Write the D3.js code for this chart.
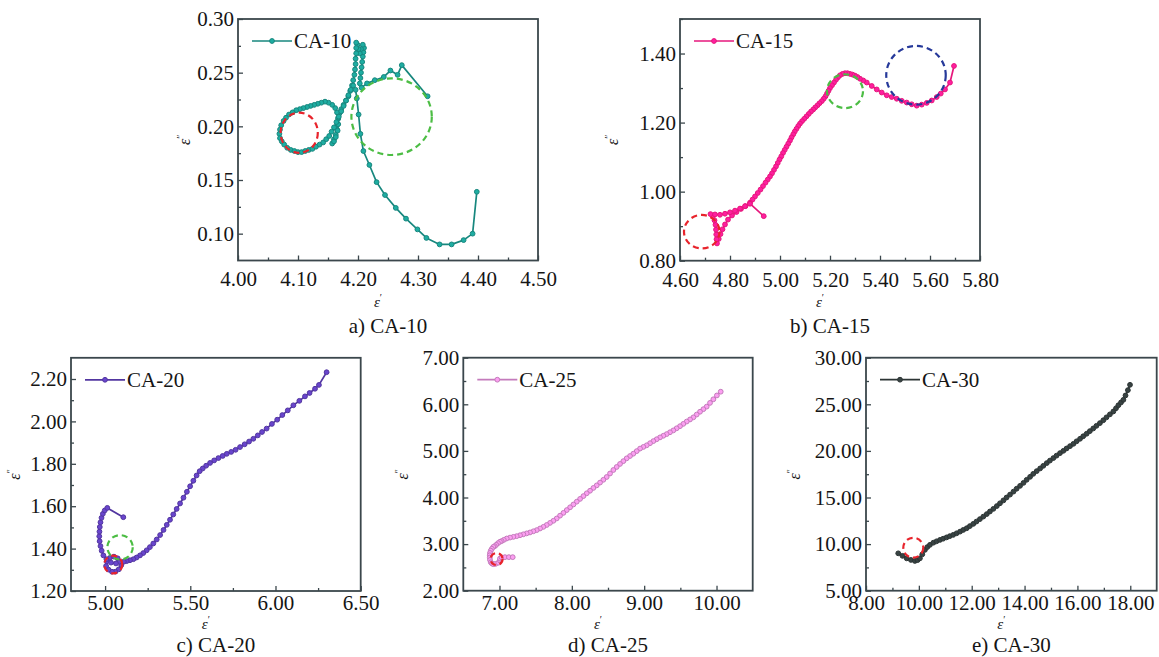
<!DOCTYPE html>
<html>
<head>
<meta charset="utf-8">
<script src="https://cdn.jsdelivr.net/npm/d3@7"></script>
<style>
  body { margin: 0; background: #fff; }
  svg text { font-family: "Liberation Serif", "Times New Roman", Times, serif; fill: #151515; }
</style>
</head>
<body>
<svg id="fig" width="1159" height="657"></svg>
<script>
// ---- series (epsilon', epsilon'') ----
var ca10 = [
  [4.316,0.228],[4.273,0.257],[4.266,0.248],[4.254,0.252],[4.243,0.246],[4.228,0.243],[4.215,0.240],[4.206,0.236],
  [4.203,0.240],[4.204,0.245],[4.205,0.250],[4.206,0.255],[4.207,0.260],[4.208,0.265],[4.209,0.269],[4.210,0.273],
  [4.208,0.276],[4.205,0.272],[4.203,0.268],[4.201,0.272],[4.199,0.276],[4.197,0.278],
  [4.197,0.273],[4.197,0.268],[4.196,0.263],[4.196,0.258],[4.195,0.253],[4.194,0.248],[4.192,0.243],[4.190,0.238],
  [4.187,0.233],[4.184,0.228],[4.180,0.224],[4.176,0.220],[4.172,0.216],[4.169,0.212],[4.167,0.207],[4.166,0.202],
  [4.165,0.197],[4.163,0.192],[4.160,0.188],[4.157,0.184],
  [4.160,0.186],[4.163,0.190],[4.166,0.196],[4.167,0.202],[4.167,0.208],[4.165,0.213],[4.162,0.217],
  [4.157,0.220],[4.151,0.222],[4.145,0.223],[4.139,0.222],[4.133,0.221],[4.127,0.220],[4.121,0.219],[4.115,0.218],
  [4.109,0.217],[4.103,0.216],[4.097,0.215],[4.091,0.213],[4.085,0.211],[4.080,0.208],[4.076,0.205],[4.072,0.201],
  [4.070,0.197],[4.069,0.193],[4.070,0.189],[4.073,0.186],[4.077,0.183],[4.082,0.180],[4.088,0.178],[4.094,0.177],
  [4.100,0.176],[4.106,0.176],[4.112,0.177],[4.118,0.178],[4.124,0.179],[4.130,0.181],[4.136,0.183],[4.142,0.185],
  [4.147,0.188],[4.152,0.191],[4.156,0.195],[4.160,0.199],[4.164,0.204],[4.168,0.209],[4.172,0.214],[4.176,0.219],
  [4.180,0.224],[4.184,0.229],[4.188,0.234],[4.192,0.238],[4.196,0.234],
  [4.198,0.226],[4.201,0.211],[4.204,0.193],[4.209,0.177],[4.219,0.164],[4.231,0.148],[4.245,0.136],[4.263,0.124],
  [4.280,0.114],[4.299,0.104],[4.314,0.096],[4.336,0.090],[4.356,0.090],[4.376,0.094],[4.391,0.100],[4.398,0.139]
];
var ca15 = [
  [5.696,1.364],[5.680,1.316],[5.660,1.296],[5.643,1.284],[5.627,1.274],[5.607,1.264],[5.587,1.257],[5.567,1.252],
  [5.547,1.249],[5.527,1.253],[5.507,1.258],[5.487,1.263],[5.467,1.269],[5.447,1.274],[5.427,1.279],[5.407,1.287],
  [5.387,1.296],[5.367,1.306],[5.347,1.316],[5.333,1.322],[5.320,1.327],[5.310,1.332],[5.300,1.336],[5.290,1.339],
  [5.280,1.341],[5.270,1.343],[5.260,1.343],[5.250,1.341],[5.240,1.337],[5.232,1.331],[5.224,1.324],[5.216,1.316],
  [5.208,1.308],[5.200,1.300],[5.194,1.292],[5.188,1.284],[5.182,1.276],[5.175,1.269],[5.167,1.262],[5.158,1.256],
  [5.150,1.250],[5.141,1.244],[5.133,1.238],[5.124,1.232],[5.115,1.225],[5.106,1.218],[5.097,1.211],[5.088,1.204],
  [5.080,1.197],[5.073,1.190],[5.066,1.182],[5.059,1.174],[5.053,1.166],[5.046,1.157],[5.040,1.148],[5.033,1.139],
  [5.026,1.130],[5.019,1.121],[5.012,1.112],[5.005,1.102],[4.998,1.093],[4.991,1.083],[4.984,1.073],[4.976,1.063],
  [4.968,1.053],[4.960,1.044],[4.951,1.035],[4.942,1.026],[4.932,1.016],[4.922,1.006],[4.911,0.996],[4.900,0.986],
  [4.890,0.977],[4.880,0.968],[4.862,0.958],[4.844,0.950],[4.826,0.941],[4.808,0.931],[4.792,0.919],[4.780,0.905],
  [4.770,0.891],[4.762,0.877],[4.755,0.863],[4.748,0.850],[4.746,0.862],[4.745,0.876],[4.744,0.890],[4.742,0.904],
  [4.738,0.917],[4.731,0.928],[4.722,0.935],[4.740,0.934],[4.760,0.933],[4.780,0.936],[4.800,0.940],[4.820,0.945],
  [4.840,0.951],[4.860,0.958],[4.880,0.965],[4.935,0.929]
];
var ca20 = [
  [6.300,2.232],[6.255,2.172],[6.232,2.154],[6.200,2.134],[6.173,2.118],[6.140,2.097],[6.105,2.076],[6.072,2.052],
  [6.040,2.030],[6.010,2.008],[5.979,1.988],[5.948,1.966],[5.921,1.950],[5.896,1.934],[5.870,1.918],[5.845,1.905],
  [5.819,1.892],[5.792,1.879],[5.766,1.866],[5.740,1.856],[5.714,1.847],[5.690,1.837],[5.665,1.827],[5.640,1.816],
  [5.616,1.804],[5.593,1.791],[5.573,1.778],[5.555,1.765],[5.537,1.745],[5.518,1.720],[5.499,1.694],[5.480,1.668],
  [5.460,1.640],[5.440,1.613],[5.420,1.587],[5.400,1.561],[5.381,1.536],[5.362,1.512],[5.343,1.488],[5.323,1.464],
  [5.303,1.443],[5.283,1.424],[5.263,1.407],[5.244,1.392],[5.224,1.379],[5.205,1.368],[5.185,1.358],[5.166,1.350],
  [5.146,1.345],[5.127,1.341],[5.110,1.338],[5.095,1.322],[5.080,1.302],[5.060,1.291],[5.040,1.291],[5.020,1.301],
  [5.006,1.318],[5.010,1.340],[5.028,1.356],[5.052,1.362],[5.074,1.354],[5.084,1.338],[5.064,1.330],[5.035,1.334],
  [5.008,1.350],[4.990,1.368],[4.980,1.390],[4.973,1.412],[4.968,1.435],[4.966,1.458],[4.967,1.480],[4.969,1.502],
  [4.973,1.524],[4.979,1.545],[4.987,1.564],[4.998,1.580],[5.013,1.592],[5.107,1.548]
];
var ca25 = [
  [10.058,6.27],[10.005,6.19],[9.956,6.107],[9.910,6.03],[9.864,5.95],[9.818,5.895],[9.772,5.84],[9.726,5.78],
  [9.680,5.72],[9.634,5.675],[9.588,5.63],[9.541,5.58],[9.495,5.53],[9.449,5.485],[9.403,5.44],[9.357,5.40],
  [9.311,5.36],[9.265,5.325],[9.219,5.29],[9.173,5.25],[9.127,5.21],[9.081,5.165],[9.035,5.12],[8.989,5.085],
  [8.943,5.05],[8.897,4.995],[8.850,4.94],[8.804,4.89],[8.758,4.84],[8.712,4.78],[8.666,4.72],[8.620,4.655],
  [8.574,4.59],[8.528,4.515],[8.482,4.44],[8.436,4.38],[8.390,4.32],[8.344,4.26],[8.298,4.205],[8.252,4.145],
  [8.206,4.09],[8.160,4.03],[8.114,3.97],[8.068,3.91],[8.022,3.85],[7.976,3.79],[7.930,3.73],[7.884,3.67],
  [7.837,3.61],[7.791,3.55],[7.745,3.50],[7.699,3.455],[7.653,3.41],[7.607,3.37],[7.561,3.335],[7.515,3.30],
  [7.469,3.275],[7.422,3.25],[7.376,3.23],[7.330,3.21],[7.284,3.19],[7.238,3.17],[7.192,3.155],[7.146,3.14],
  [7.100,3.12],[7.060,3.09],[7.030,3.065],[7.007,3.05],[6.980,3.02],[6.955,2.985],[6.935,2.955],[6.915,2.94],
  [6.895,2.90],[6.880,2.86],[6.869,2.81],[6.866,2.76],[6.866,2.71],[6.869,2.66],[6.880,2.61],[6.895,2.585],
  [6.915,2.57],[6.945,2.575],[6.984,2.60],[7.005,2.65],[7.007,2.69],[7.030,2.715],[7.076,2.72],[7.130,2.72],[7.183,2.72]
];
var ca30 = [
  [9.22,9.01],[9.38,8.74],[9.54,8.47],[9.70,8.30],[9.85,8.19],[9.95,8.28],[10.04,8.47],[10.13,8.90],
  [10.23,9.38],[10.32,9.68],[10.42,9.92],[10.55,10.15],[10.67,10.30],[10.80,10.45],[10.92,10.58],[11.05,10.72],
  [11.17,10.85],[11.30,10.99],[11.43,11.16],[11.56,11.34],[11.68,11.52],[11.81,11.70],[11.93,11.93],[12.06,12.17],
  [12.18,12.42],[12.31,12.68],[12.44,12.95],[12.57,13.22],[12.69,13.50],[12.82,13.78],[12.95,14.08],[13.07,14.38],
  [13.20,14.69],[13.32,15.00],[13.45,15.31],[13.58,15.63],[13.70,15.94],[13.83,16.25],[13.96,16.57],[14.08,16.90],
  [14.21,17.22],[14.33,17.54],[14.46,17.83],[14.59,18.12],[14.71,18.40],[14.84,18.69],[14.96,18.96],[15.09,19.23],
  [15.21,19.49],[15.34,19.76],[15.47,20.01],[15.59,20.26],[15.72,20.51],[15.85,20.76],[15.97,21.03],[16.10,21.30],
  [16.22,21.57],[16.35,21.84],[16.47,22.12],[16.60,22.41],[16.72,22.69],[16.85,22.98],[16.98,23.29],[17.10,23.60],
  [17.23,23.92],[17.36,24.23],[17.46,24.57],[17.55,24.90],[17.65,25.20],[17.74,25.48],[17.82,25.95],[17.91,26.52],
  [17.99,27.09]
];

// dashed rings: [cx, cy, rx, ry] in data units
var ca10Rings = [[4.102,0.194,0.031,0.0187],[4.256,0.209,0.067,0.0357]];
var ca15Rings = [[4.687,0.884,0.071,0.0485],[5.260,1.291,0.072,0.049],[5.544,1.337,0.119,0.085]];
var ca20Rings = [[5.088,1.406,0.0745,0.0575],[5.048,1.325,0.053,0.042]];
var ca25Rings = [[6.960,2.680,0.083,0.129]];
var ca30Rings = [[9.79,9.61,0.378,1.07]];

// ticks
var ca10XTicks = [4.00,4.10,4.20,4.30,4.40,4.50], ca10XMinor = [4.05,4.15,4.25,4.35,4.45];
var ca10YTicks = [0.10,0.15,0.20,0.25,0.30],      ca10YMinor = [0.125,0.175,0.225,0.275];
var ca15XTicks = [4.60,4.80,5.00,5.20,5.40,5.60,5.80], ca15XMinor = [4.70,4.90,5.10,5.30,5.50,5.70];
var ca15YTicks = [0.80,1.00,1.20,1.40],           ca15YMinor = [0.90,1.10,1.30,1.50];
var ca20XTicks = [5.00,5.50,6.00,6.50],           ca20XMinor = [5.25,5.75,6.25];
var ca20YTicks = [1.20,1.40,1.60,1.80,2.00,2.20], ca20YMinor = [1.30,1.50,1.70,1.90,2.10];
var ca25XTicks = [7.00,8.00,9.00,10.00],          ca25XMinor = [7.50,8.50,9.50];
var ca25YTicks = [2.00,3.00,4.00,5.00,6.00,7.00], ca25YMinor = [2.50,3.50,4.50,5.50,6.50];
var ca30XTicks = [8.00,10.00,12.00,14.00,16.00,18.00], ca30XMinor = [9,11,13,15,17];
var ca30YTicks = [5.00,10.00,15.00,20.00,25.00,30.00], ca30YMinor = [7.5,12.5,17.5,22.5,27.5];

var ringColor = { red: "#e8242c", green: "#4cbd44", blue: "#26399a" };
var axisColor = "#3b474c";
var serif = "'Liberation Serif', 'Times New Roman', Times, serif";

var panels = [
  { name: "CA-10", caption: "a) CA-10", data: ca10, color: "#17877e", rings: ca10Rings, ringCols: ["red","green"],
    box: [238, 19, 538, 260.5], xDom: [4.00, 4.50], yDom: [0.075, 0.30],
    xt: ca10XTicks, xm: ca10XMinor, yt: ca10YTicks, ym: ca10YMinor, xPad: 11, yLab: -48, row: 0 },
  { name: "CA-15", caption: "b) CA-15", data: ca15, color: "#e6177c", rings: ca15Rings, ringCols: ["red","green","blue"],
    box: [680, 19, 980, 260.7], xDom: [4.60, 5.80], yDom: [0.80, 1.50],
    xt: ca15XTicks, xm: ca15XMinor, yt: ca15YTicks, ym: ca15YMinor, xPad: 11, yLab: -62, row: 0 },
  { name: "CA-20", caption: "c) CA-20", data: ca20, color: "#5236a0", rings: ca20Rings, ringCols: ["green","red"],
    box: [71, 357.8, 360.7, 591], xDom: [4.80, 6.50], yDom: [1.20, 2.30],
    xt: ca20XTicks, xm: ca20XMinor, yt: ca20YTicks, ym: ca20YMinor, xPad: 4, yLab: -51, row: 1 },
  { name: "CA-25", caption: "d) CA-25", data: ca25, color: "#c47bbc", rings: ca25Rings, ringCols: ["red"],
    box: [463.3, 357.7, 752.7, 590.7], xDom: [6.50, 10.50], yDom: [2.00, 7.00],
    xt: ca25XTicks, xm: ca25XMinor, yt: ca25YTicks, ym: ca25YMinor, xPad: 4, yLab: -55, row: 1 },
  { name: "CA-30", caption: "e) CA-30", data: ca30, color: "#2c3434", rings: ca30Rings, ringCols: ["red"],
    box: [866, 357.7, 1156.7, 590.7], xDom: [8.00, 19.00], yDom: [5.00, 30.00],
    xt: ca30XTicks, xm: ca30XMinor, yt: ca30YTicks, ym: ca30YMinor, xPad: 4, yLab: -66, row: 1 }
];

var svg = d3.select("#fig");
svg.append("rect").attr("width", 1159).attr("height", 657).attr("fill", "#fff");
var fmt = d3.format(".2f");

panels.forEach(function(p) {
    var x0 = p.box[0], y0 = p.box[1], x1 = p.box[2], y1 = p.box[3]
      , x = d3.scaleLinear().domain(p.xDom).range([x0, x1])
      , y = d3.scaleLinear().domain(p.yDom).range([y1, y0])
      , g = svg.append("g").attr("class", "panel").style("font-family", serif)
    ;

    function styleAxis(sel) {
        sel.attr("font-family", null).attr("font-size", null);
        sel.select(".domain").remove();
        sel.selectAll(".tick line").attr("stroke", axisColor).attr("stroke-width", 1.3);
        sel.selectAll(".tick text")
            .style("font-family", serif).style("font-size", "21px")
            .attr("fill", "#151515");
    }

    // minor + major ticks, pointing inwards
    g.append("g").attr("transform", "translate(0," + y1 + ")")
        .call(d3.axisBottom(x).tickValues(p.xm).tickSize(-3).tickFormat(""))
        .call(styleAxis);
    g.append("g").attr("transform", "translate(0," + y1 + ")")
        .call(d3.axisBottom(x).tickValues(p.xt).tickSize(-5).tickPadding(p.xPad).tickFormat(fmt))
        .call(styleAxis);
    g.append("g").attr("transform", "translate(" + x0 + ",0)")
        .call(d3.axisLeft(y).tickValues(p.ym).tickSize(-3).tickFormat(""))
        .call(styleAxis);
    g.append("g").attr("transform", "translate(" + x0 + ",0)")
        .call(d3.axisLeft(y).tickValues(p.yt).tickSize(-5).tickPadding(4).tickFormat(fmt))
        .call(styleAxis);

    // frame
    g.append("rect")
        .attr("x", x0).attr("y", y0)
        .attr("width", x1 - x0).attr("height", y1 - y0)
        .attr("fill", "none").attr("stroke", axisColor).attr("stroke-width", 1.8);

    // series
    var line = d3.line().x(function(d) { return x(d[0]); }).y(function(d) { return y(d[1]); });
    var light = d3.color(p.color).brighter(0.7).formatHex();
    g.append("path").datum(p.data)
        .attr("d", line)
        .attr("fill", "none").attr("stroke", p.color).attr("stroke-width", 1.7)
        .attr("stroke-linejoin", "round");
    g.append("g").selectAll("circle").data(p.data)
      .enter().append("circle")
        .attr("cx", function(d) { return x(d[0]); })
        .attr("cy", function(d) { return y(d[1]); })
        .attr("r", 2.4)
        .attr("fill", light).attr("stroke", p.color).attr("stroke-width", 1);

    // dashed rings
    g.append("g").selectAll("ellipse").data(p.rings)
      .enter().append("ellipse")
        .attr("cx", function(d) { return x(d[0]); })
        .attr("cy", function(d) { return y(d[1]); })
        .attr("rx", function(d) { return x(d[0] + d[2]) - x(d[0]); })
        .attr("ry", function(d) { return y(d[1]) - y(d[1] + d[3]); })
        .attr("fill", "none")
        .attr("stroke", function(d, i) { return ringColor[p.ringCols[i]]; })
        .attr("stroke-width", 2.2)
        .attr("stroke-dasharray", "6,4");

    // legend
    var ly = y0 + 22, lx = x0 + 14;
    g.append("line").attr("x1", lx).attr("x2", lx + 40).attr("y1", ly).attr("y2", ly)
        .attr("stroke", p.color).attr("stroke-width", 1.7);
    g.append("circle").attr("cx", lx + 20).attr("cy", ly).attr("r", 2.4)
        .attr("fill", light).attr("stroke", p.color);
    g.append("text").attr("x", lx + 42).attr("y", ly).attr("dy", "0.35em")
        .style("font-size", "21px").text(p.name);

    // axis titles
    var cx = (x0 + x1) / 2, cy = (y0 + y1) / 2;
    var xl = g.append("text").attr("x", cx - 10).attr("y", y1 + (p.row ? 38 : 46))
        .attr("text-anchor", "middle").style("font-size", "15px");
    xl.append("tspan").attr("font-style", "italic").text("ε");
    xl.append("tspan").attr("dy", -6).style("font-size", "10px").text("′");

    var yl = g.append("text")
        .attr("transform", "translate(" + (x0 + p.yLab) + "," + cy + ") rotate(-90)")
        .attr("text-anchor", "middle").style("font-size", "16px");
    yl.append("tspan").attr("font-style", "italic").text("ε");
    yl.append("tspan").attr("dy", -6).style("font-size", "10px").text("″");

    // caption
    g.append("text").attr("x", cx).attr("y", y1 + (p.row ? 61 : 72))
        .attr("text-anchor", "middle").style("font-size", "21px").text(p.caption);
});
</script>
</body>
</html>
